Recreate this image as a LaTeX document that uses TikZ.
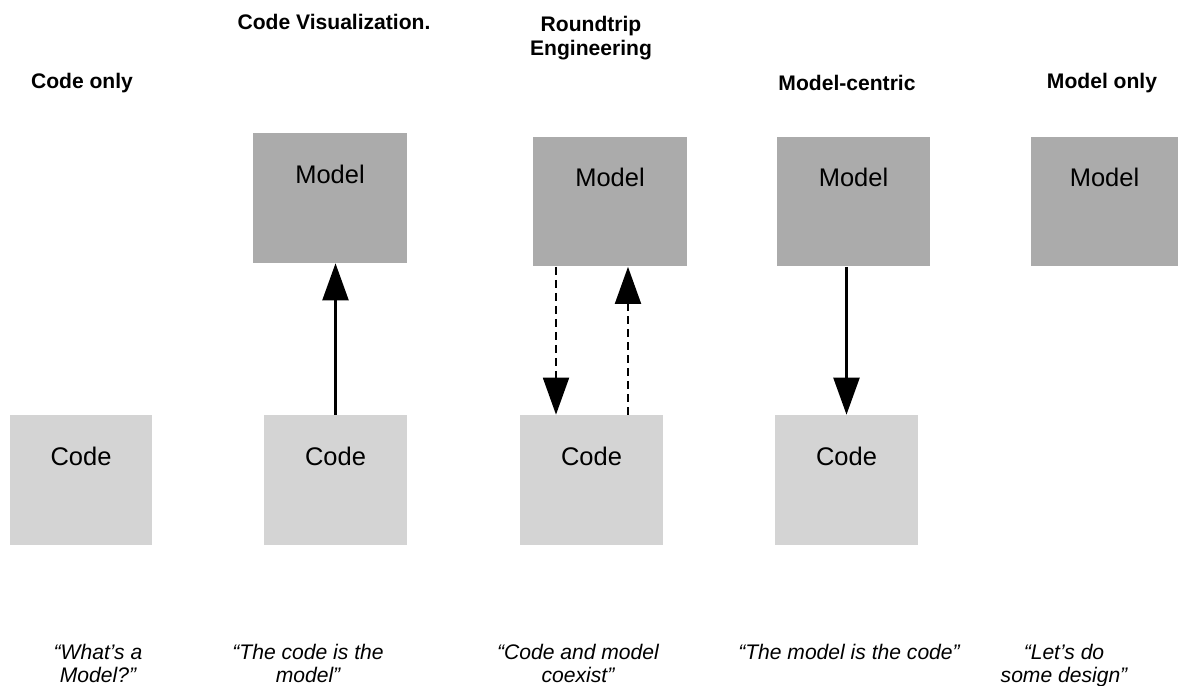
\documentclass[tikz,border=0pt]{standalone}
\usepackage{fontspec}
\setmainfont{Liberation Sans}
\usepackage{xcolor}
\usepackage{tikz}
\usetikzlibrary{positioning,arrows.meta}
\definecolor{modelgray}{HTML}{ABABAB}
\definecolor{codegray}{HTML}{D4D4D4}

\begin{document}
\begin{tikzpicture}[x=0.02cm,y=-0.02cm,
      modelbox/.style={fill=modelgray,minimum width=3.08cm,minimum height=2.6cm,inner sep=0pt,text height=0.7cm,text depth=1.3cm,font=\fontsize{14.5}{16}\selectfont},
      codebox/.style={fill=codegray,minimum width=2.86cm,minimum height=2.6cm,inner sep=0pt,text height=0.7cm,text depth=1.3cm,font=\fontsize{14.5}{16}\selectfont},
      title/.style={font=\bfseries\fontsize{12}{14}\selectfont,align=center},
      saying/.style={font=\itshape\fontsize{12}{13}\selectfont,align=center,anchor=north},
      arr/.style={-{Triangle[length=0.74cm,width=0.52cm]},line width=1.3pt},
      darr/.style={arr,line width=1.1pt,dash pattern=on 0.16cm off 0.1cm}]
    \useasboundingbox (0,0) rectangle (1178,686);
    % column titles
    \node[title] (t1) at (82,83) {Code only};
    \node[title] (t2) at (334,22) {Code Visualization.};
    \node[title] (t3) at (591,38) {Roundtrip\\Engineering};
    \node[title] (t4) at (847,83) {Model-centric};
    \node[title] (t5) at (1102,83) {Model only};
    % models
    \node[modelbox] (cvm) at (330,198) {Model};
    \node[modelbox] (rtm) at (610,201.5) {Model};
    \node[modelbox] (mcm) at (853.5,201.5) {Model};
    \node[modelbox,minimum width=2.94cm] (mom) at (1104.5,201.5) {Model};
    % code
    \node[codebox] (coc) at (81,480) {Code};
    \node[codebox] (cvc) at (335.5,480) {Code};
    \node[codebox] (rtc) at (591.5,480) {Code};
    \node[codebox] (mcc) at (846.5,480) {Code};
    % arrows
    \draw[arr] (cvc.north) -- (cvc.north |- cvm.south);
    \draw[darr] ([xshift=-0.71cm]rtc.north |- rtm.south) -- ([xshift=-0.71cm]rtc.north);
    \draw[darr] ([xshift=0.73cm]rtc.north) -- ([xshift=0.73cm]rtc.north |- rtm.south);
    \draw[arr] (mcc.north |- mcm.south) -- (mcc.north);
    % sayings
    \foreach \x/\txt [count=\i] in {98/{“What’s a\\Model?”},308/{“The code is the\\model”},
        578/{“Code and model\\coexist”},849/{“The model is the code”},1064/{“Let’s do\\some design”}} {
      \node[saying] (s\i) at (\x,638) {\txt};
    }
  \end{tikzpicture}
\end{document}
